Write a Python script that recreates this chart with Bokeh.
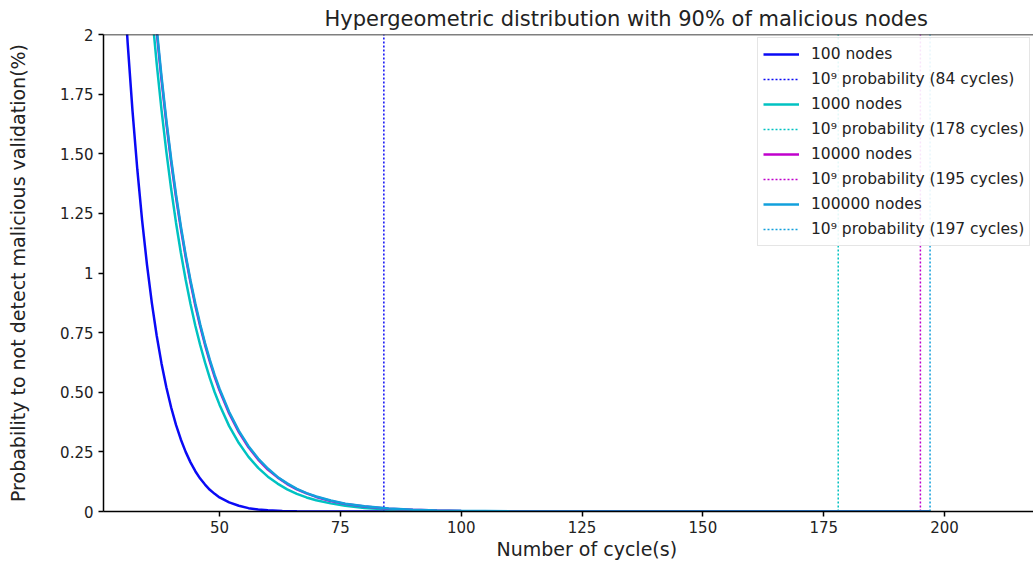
from bokeh.plotting import figure
from bokeh.models import Range1d, FixedTicker, Legend, LegendItem, Span, Title
from bokeh.embed import file_html
from bokeh.resources import INLINE

# ---------------- data ----------------
title_text = "Hypergeometric distribution with 90% of malicious nodes"
x_label = "Number of cycle(s)"
y_label = "Probability to not detect malicious validation(%)"

cycles_100 = [28, 29, 30, 31, 32, 33, 34, 35, 36, 37, 38, 39, 40, 41, 42, 43, 44,
              45, 46, 47, 48, 49, 50, 52, 54, 56, 58, 60, 63, 66, 70, 80, 90, 197]
prob_100 = [3.098, 2.668, 2.292, 1.964, 1.680, 1.433, 1.219, 1.034, 0.875, 0.738,
            0.621, 0.521, 0.436, 0.363, 0.302, 0.250, 0.206, 0.169, 0.138, 0.113,
            0.091, 0.074, 0.059, 0.038, 0.024, 0.014, 0.0085, 0.0049, 0.0020,
            0.00076, 0.00017, 0.0, 0.0, 0.0]

cycles = [33, 34, 35, 36, 37, 38, 39, 40, 41, 42, 43, 44, 45, 46, 47, 48, 49, 50,
          52, 54, 56, 58, 60, 62, 64, 66, 68, 70,
          73, 76, 80, 85, 90, 95, 100, 110, 120, 140, 160, 197]
prob_1000 = [2.910, 2.609, 2.339, 2.097, 1.879, 1.684, 1.509, 1.352, 1.211, 1.085,
             0.972, 0.870, 0.779, 0.698, 0.625, 0.559, 0.500, 0.448,
             0.358, 0.287, 0.229, 0.183, 0.146, 0.117, 0.093, 0.074, 0.059, 0.047,
             0.034, 0.024, 0.015, 0.0085, 0.0047, 0.0027, 0.0015, 0.0004, 0.0001,
             0.0, 0.0, 0.0]
prob_10000 = [3.072, 2.764, 2.486, 2.237, 2.013, 1.811, 1.629, 1.465, 1.318, 1.186,
              1.067, 0.960, 0.863, 0.777, 0.699, 0.628, 0.565, 0.508,
              0.411, 0.333, 0.269, 0.218, 0.176, 0.143, 0.115, 0.093, 0.076, 0.061,
              0.044, 0.032, 0.021, 0.012, 0.0073, 0.0043, 0.0026, 0.0009, 0.0003,
              0.00004, 0.0, 0.0]
prob_100000 = [3.089, 2.780, 2.502, 2.252, 2.027, 1.824, 1.641, 1.477, 1.329, 1.196,
               1.076, 0.969, 0.872, 0.785, 0.706, 0.636, 0.572, 0.515,
               0.417, 0.338, 0.274, 0.222, 0.180, 0.145, 0.118, 0.095, 0.077, 0.063,
               0.046, 0.033, 0.022, 0.013, 0.0076, 0.0045, 0.0027, 0.0009, 0.0003,
               0.00004, 0.0, 0.0]

node_labels = ["100 nodes", "1000 nodes", "10000 nodes", "100000 nodes"]
threshold_cycles = [84, 178, 195, 197]
threshold_labels = ["10\u2079 probability (84 cycles)", "10\u2079 probability (178 cycles)",
                    "10\u2079 probability (195 cycles)", "10\u2079 probability (197 cycles)"]
colors = ["#0a0af5", "#00c2c2", "#c000cc", "#12a0dc"]

x_ticks = [50, 75, 100, 125, 150, 175, 200]
y_ticks = [0, 0.25, 0.5, 0.75, 1, 1.25, 1.5, 1.75, 2]
y_tick_labels = ["0", "0.25", "0.50", "0.75", "1", "1.25", "1.50", "1.75", "2"]
x_lim = (26, 218.4)
y_lim = (0, 2)

# ---------------- figure ----------------
FONT = "DejaVu Sans"
p = figure(width=1033, height=567, x_range=Range1d(*x_lim), y_range=Range1d(*y_lim),
           output_backend="svg", toolbar_location=None,
           min_border_left=103, min_border_right=0, min_border_top=33, min_border_bottom=56)

p.title.text = title_text
p.title.align = "left"
p.title.offset = 221
p.title.text_font = FONT
p.title.text_font_size = "21px"
p.title.text_font_style = "normal"
p.title.text_color = "#222222"
p.title.standoff = 8

p.grid.visible = False
p.outline_line_color = None
p.background_fill_color = "white"

for ax in (p.xaxis[0], p.yaxis[0]):
    ax.axis_line_color = "black"
    ax.axis_line_width = 1.5
    ax.major_tick_line_color = "black"
    ax.major_tick_line_width = 1.5
    ax.major_tick_in = 0
    ax.major_tick_out = 5
    ax.minor_tick_line_color = None
    ax.major_label_text_font = FONT
    ax.major_label_text_font_size = "15px"
    ax.major_label_text_color = "#222222"

p.xaxis.ticker = FixedTicker(ticks=x_ticks)
p.yaxis.ticker = FixedTicker(ticks=y_ticks)
p.yaxis.major_label_overrides = {t: l for t, l in zip(y_ticks, y_tick_labels)}
p.xaxis.major_label_standoff = 4
p.yaxis.major_label_standoff = 5

p.yaxis.axis_label = y_label
p.yaxis.axis_label_text_font = FONT
p.yaxis.axis_label_text_font_size = "19px"
p.yaxis.axis_label_text_font_style = "normal"
p.yaxis.axis_label_text_color = "#222222"
p.yaxis.axis_label_standoff = 28

xt = Title(text=x_label, align="left", offset=393, text_font=FONT,
           text_font_size="19px", text_font_style="normal", text_color="#222222",
           standoff=0)
p.add_layout(xt, "below")

top_spine = Span(location=y_lim[1], dimension="width", line_color="black", line_width=1.5)
p.add_layout(top_spine)

series = [(cycles_100, prob_100), (cycles, prob_1000), (cycles, prob_10000), (cycles, prob_100000)]
items = []
for (xs, ys), lab, tc, tl, c in zip(series, node_labels, threshold_cycles, threshold_labels, colors):
    r = p.line(xs, ys, line_color=c, line_width=2.5)
    v = p.line([tc, tc], list(y_lim), line_color=c, line_width=1.5, line_dash="2 2")
    items.append(LegendItem(label=lab, renderers=[r]))
    items.append(LegendItem(label=tl, renderers=[v]))

legend = Legend(items=items, location=(654, 265), orientation="vertical")
legend.label_text_font = FONT
legend.label_text_font_size = "15.5px"
legend.label_text_color = "#222222"
legend.glyph_width = 36
legend.glyph_height = 22
legend.label_height = 22
legend.spacing = 3
legend.padding = 5
legend.margin = 0
legend.label_standoff = 12
legend.border_line_color = "#cccccc"
legend.border_line_width = 1
legend.background_fill_alpha = 0.9
p.add_layout(legend)

open("out.html", "w").write(file_html(p, INLINE))
